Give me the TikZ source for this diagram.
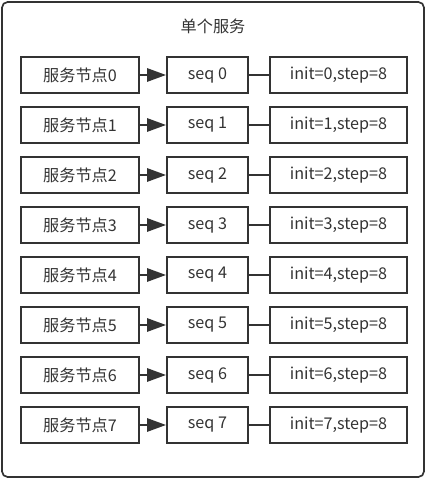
\documentclass[tikz,border=0pt]{standalone}
\usepackage{fontspec}
\setmainfont{Noto Sans CJK SC}
\usepackage{tikz}
\usetikzlibrary{arrows.meta}

\definecolor{boxline}{HTML}{333333}
\definecolor{boxtext}{HTML}{333333}

\begin{document}
\begin{tikzpicture}
\useasboundingbox (0,0) rectangle (10.675,12);
\draw [boxline, line width=1.2pt, rounded corners=4pt] (0.05,0.075) rectangle (10.6,11.95);
\node [text=boxtext, font=\fontsize{11.5}{13}\selectfont] (title) at (5.325,11.35) {单个服务};

\begin{scope}[every node/.style={rectangle,draw=boxline,line width=1.4pt,
              text=boxtext,minimum height=0.9cm,inner sep=0pt,
              font=\fontsize{11.5}{13}\selectfont}]
    \node [minimum width=2.95cm] (N0) at (2.0,10.125) {服务节点0};
    \node [minimum width=2.95cm] (N1) at (2.0,8.875) {服务节点1};
    \node [minimum width=2.95cm] (N2) at (2.0,7.625) {服务节点2};
    \node [minimum width=2.95cm] (N3) at (2.0,6.375) {服务节点3};
    \node [minimum width=2.95cm] (N4) at (2.0,5.125) {服务节点4};
    \node [minimum width=2.95cm] (N5) at (2.0,3.875) {服务节点5};
    \node [minimum width=2.95cm] (N6) at (2.0,2.625) {服务节点6};
    \node [minimum width=2.95cm] (N7) at (2.0,1.375) {服务节点7};

    \node [minimum width=2.025cm] (S0) at (5.1875,10.125) {seq 0};
    \node [minimum width=2.025cm] (S1) at (5.1875,8.875) {seq 1};
    \node [minimum width=2.025cm] (S2) at (5.1875,7.625) {seq 2};
    \node [minimum width=2.025cm] (S3) at (5.1875,6.375) {seq 3};
    \node [minimum width=2.025cm] (S4) at (5.1875,5.125) {seq 4};
    \node [minimum width=2.025cm] (S5) at (5.1875,3.875) {seq 5};
    \node [minimum width=2.025cm] (S6) at (5.1875,2.625) {seq 6};
    \node [minimum width=2.025cm] (S7) at (5.1875,1.375) {seq 7};

    \node [minimum width=3.425cm] (I0) at (8.4625,10.125) {init=0,step=8};
    \node [minimum width=3.425cm] (I1) at (8.4625,8.875) {init=1,step=8};
    \node [minimum width=3.425cm] (I2) at (8.4625,7.625) {init=2,step=8};
    \node [minimum width=3.425cm] (I3) at (8.4625,6.375) {init=3,step=8};
    \node [minimum width=3.425cm] (I4) at (8.4625,5.125) {init=4,step=8};
    \node [minimum width=3.425cm] (I5) at (8.4625,3.875) {init=5,step=8};
    \node [minimum width=3.425cm] (I6) at (8.4625,2.625) {init=6,step=8};
    \node [minimum width=3.425cm] (I7) at (8.4625,1.375) {init=7,step=8};
\end{scope}

\begin{scope}[>={Triangle[length=0.47cm,width=0.33cm]},
              every edge/.style={draw=boxline,line width=1.4pt}]
    \path [->] (N0) edge (S0);
    \path [->] (N1) edge (S1);
    \path [->] (N2) edge (S2);
    \path [->] (N3) edge (S3);
    \path [->] (N4) edge (S4);
    \path [->] (N5) edge (S5);
    \path [->] (N6) edge (S6);
    \path [->] (N7) edge (S7);
    \path (S0) edge (I0);
    \path (S1) edge (I1);
    \path (S2) edge (I2);
    \path (S3) edge (I3);
    \path (S4) edge (I4);
    \path (S5) edge (I5);
    \path (S6) edge (I6);
    \path (S7) edge (I7);
\end{scope}
\end{tikzpicture}
\end{document}
